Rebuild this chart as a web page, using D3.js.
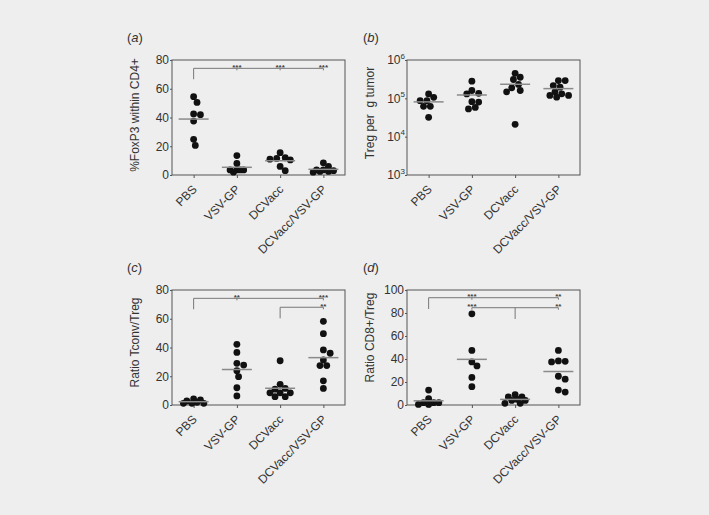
<!DOCTYPE html>
<html>
<head>
<meta charset="utf-8">
<script src="https://cdn.jsdelivr.net/npm/d3@7"></script>
<style>
  body { margin: 0; background: #eeeeee; }
  svg { display: block; font-family: "Liberation Sans", Arial, sans-serif; }
</style>
</head>
<body>
<svg id="chart" width="709" height="515"></svg>
<script>
// Treatment groups (x categories, same for all four panels)
const groups = ["PBS", "VSV-GP", "DCVacc", "DCVacc/VSV-GP"];

// (a) %FoxP3 within CD4+
const foxp3 = [
    [54.5, 50.5, 42.5, 42, 37.5, 24.8, 20.6],
    [13.5, 8, 3.5, 3.5, 3.5, 3.5, 2],
    [15.5, 12, 11.5, 11, 10.5, 6, 3],
    [8.5, 6, 3.5, 2.5, 2.5, 3, 3.5, 2]
];

// (b) Treg per g tumor (log scale)
const tregPerGram = [
    [1.3e5, 1.06e5, 8.7e4, 8.7e4, 6.2e4, 6.2e4, 3.2e4],
    [2.8e5, 1.6e5, 1.35e5, 1.3e5, 8.2e4, 8e4, 5.8e4, 5.3e4],
    [4.5e5, 3.55e5, 3.1e5, 2.3e5, 1.88e5, 1.6e5, 1.48e5, 2.1e4],
    [2.9e5, 2.9e5, 2.15e5, 1.95e5, 1.48e5, 1.31e5, 1.19e5, 1.19e5, 1.07e5]
];

// (c) Ratio Tconv/Treg
const tconvRatio = [
    [4.2, 3.5, 2.8, 1.9, 1.2, 1.2, 1.2],
    [42.2, 36.6, 29, 27.8, 23.9, 19.7, 12, 6.3],
    [30.8, 14.4, 11.5, 11, 8.5, 8.5, 8.5, 5.8, 5.8],
    [58.2, 49.6, 38.3, 36, 31.3, 27.4, 27.4, 16.8, 11.5]
];

// (d) Ratio CD8+/Treg
const cd8Ratio = [
    [13, 5.5, 2, 2, 2, 0.5, 0.5],
    [79.3, 47.5, 37.5, 34, 24, 15.9],
    [9, 7, 7, 5, 4, 4, 1.5, 1.5],
    [47.5, 38.3, 38, 37.5, 25, 22.5, 13, 11.2]
];

// Significance brackets: line from/to at value y, a stem down to stemTo, star marks
const sigA = [
    { from: "PBS", to: "DCVacc/VSV-GP", y: 74.2, stem: "PBS", stemTo: 66.6,
      marks: [["VSV-GP", "***"], ["DCVacc", "***"], ["DCVacc/VSV-GP", "***"]] }
];
const sigC = [
    { from: "PBS", to: "DCVacc/VSV-GP", y: 74.2, stem: "PBS", stemTo: 66.6,
      marks: [["VSV-GP", "**"], ["DCVacc/VSV-GP", "***"]] },
    { from: "DCVacc", to: "DCVacc/VSV-GP", y: 68, stem: "DCVacc", stemTo: 60.3,
      marks: [["DCVacc/VSV-GP", "**"]] }
];
const sigD = [
    { from: "PBS", to: "DCVacc/VSV-GP", y: 93.3, stem: "PBS", stemTo: 83.5,
      marks: [["VSV-GP", "***"], ["DCVacc/VSV-GP", "**"]] },
    { from: "VSV-GP", to: "DCVacc/VSV-GP", y: 84.6, stem: "DCVacc", stemTo: 74.8,
      marks: [["VSV-GP", "***"], ["DCVacc/VSV-GP", "**"]] }
];

const W = 173, H = 115;
const R = 3.4;

const panels = [
    { tag: "a", x: 172, y: 60, data: foxp3, max: 80, ticks: [0, 20, 40, 60, 80],
      title: "%FoxP3 within CD4+", titleShift: -2.5, sig: sigA },
    { tag: "b", x: 407, y: 60, data: tregPerGram, log: true, ticks: [1e3, 1e4, 1e5, 1e6],
      title: "Treg per  g tumor", titleShift: -4.5, sig: [] },
    { tag: "c", x: 172, y: 290, data: tconvRatio, max: 80, ticks: [0, 20, 40, 60, 80],
      title: "Ratio Tconv/Treg", titleShift: -5, sig: sigC },
    { tag: "d", x: 407, y: 290, data: cd8Ratio, max: 100, ticks: [0, 20, 40, 60, 80, 100],
      title: "Ratio CD8+/Treg", titleShift: -10, sig: sigD }
];

const svg = d3.select("#chart");

// simple beeswarm: spread points sideways, but keep them inside a narrow column
function swarm(ys) {
    const placed = [];
    const offs = new Array(ys.length);
    const order = d3.range(ys.length).sort((a, b) => ys[a] - ys[b]);
    const step = R * 0.5;
    const minDist = 2 * R * 0.9;
    const maxOff = 11;
    order.forEach(i => {
        let best = 0, bestGap = -1;
        for (let k = 0; k < 40; k++) {
            const dx = k === 0 ? 0 : (k % 2 ? 1 : -1) * Math.ceil(k / 2) * step;
            if (Math.abs(dx) > maxOff) break;
            const gap = placed.length
                ? d3.min(placed, p => Math.hypot(p.dx - dx, p.y - ys[i]))
                : Infinity;
            if (gap >= minDist) { best = dx; bestGap = gap; break; }
            if (gap > bestGap) { best = dx; bestGap = gap; }
        }
        offs[i] = best;
        placed.push({ dx: best, y: ys[i] });
    });
    return offs;
}

function drawPanel(p) {
    const g = svg.append("g").attr("transform", `translate(${p.x},${p.y})`);

    const x = d3.scalePoint().domain(groups).range([0, W]).padding(0.5);
    const y = p.log
        ? d3.scaleLog().domain([1e3, 1e6]).range([H, 0])
        : d3.scaleLinear().domain([0, p.max]).range([H, 0]);

    // y axis
    const yAxis = g.append("g")
        .call(d3.axisLeft(y).tickValues(p.ticks).tickSize(2).tickPadding(1)
            .tickFormat(p.log ? "" : d3.format("d")));
    yAxis.select(".domain").remove();
    yAxis.selectAll("line").attr("stroke", "#555");
    yAxis.selectAll("text").attr("font-size", 12).attr("fill", "#333")
        .attr("font-family", "Liberation Sans, Arial, sans-serif");

    if (p.log) {
        const lt = g.selectAll(".logtick").data(p.ticks).join("text")
            .attr("class", "logtick")
            .attr("x", -2)
            .attr("y", d => y(d))
            .attr("dy", "0.35em")
            .attr("text-anchor", "end")
            .attr("font-size", 12)
            .attr("fill", "#333");
        lt.append("tspan").text("10");
        lt.append("tspan").attr("font-size", 8).attr("dy", "-0.7em")
            .text(d => Math.round(Math.log10(d)));
    }

    // x axis ticks
    const xAxis = g.append("g").attr("transform", `translate(0,${H})`)
        .call(d3.axisBottom(x).tickSize(3).tickFormat(""));
    xAxis.select(".domain").remove();
    xAxis.selectAll("line").attr("stroke", "#555");

    g.selectAll(".xlab").data(groups).join("text")
        .attr("class", "xlab")
        .attr("transform", d => `translate(${x(d) + 4},${H + 15}) rotate(-45)`)
        .attr("text-anchor", "end")
        .attr("font-size", 12)
        .attr("fill", "#333")
        .text(d => d);

    // frame
    g.append("rect")
        .attr("width", W).attr("height", H)
        .attr("fill", "none").attr("stroke", "#555").attr("stroke-width", 1);

    // y title
    g.append("text")
        .attr("transform", `translate(-33,${H / 2 + p.titleShift}) rotate(-90)`)
        .attr("text-anchor", "middle")
        .attr("font-size", 12)
        .attr("fill", "#333")
        .style("white-space", "pre")
        .text(p.title);

    // panel tag
    const tag = g.append("text")
        .attr("x", p.x > 300 ? -44 : -45)
        .attr("y", -18.5)
        .attr("font-size", 13)
        .attr("fill", "#333");
    tag.append("tspan").text("(");
    tag.append("tspan").attr("font-style", "italic").text(p.tag);
    tag.append("tspan").text(")");

    // points + mean lines
    p.data.forEach((vals, i) => {
        const cx = x(groups[i]);
        const ys = vals.map(v => y(v));
        const offs = swarm(ys);
        g.append("g").selectAll("circle").data(vals).join("circle")
            .attr("cx", (d, j) => cx + offs[j])
            .attr("cy", (d, j) => ys[j])
            .attr("r", R)
            .attr("fill", "#111");
        const m = d3.mean(vals);
        g.append("line")
            .attr("x1", cx - 15).attr("x2", cx + 15)
            .attr("y1", y(m)).attr("y2", y(m))
            .attr("stroke", "#8a8a8a").attr("stroke-width", 1.5);
    });

    // significance brackets
    p.sig.forEach(s => {
        const yy = y(s.y);
        g.append("line")
            .attr("x1", x(s.from)).attr("x2", x(s.to))
            .attr("y1", yy).attr("y2", yy)
            .attr("stroke", "#777").attr("stroke-width", 1);
        g.append("line")
            .attr("x1", x(s.stem)).attr("x2", x(s.stem))
            .attr("y1", yy).attr("y2", y(s.stemTo))
            .attr("stroke", "#777").attr("stroke-width", 1);
        s.marks.forEach(([at, label]) => {
            g.append("line")
                .attr("x1", x(at)).attr("x2", x(at))
                .attr("y1", yy).attr("y2", yy + 2)
                .attr("stroke", "#777").attr("stroke-width", 1);
            g.append("text")
                .attr("x", x(at)).attr("y", yy + 1.6)
                .attr("text-anchor", "middle")
                .attr("font-size", 8)
                .attr("font-weight", "bold")
                .attr("fill", "#444")
                .text(label);
        });
    });
}

panels.forEach(drawPanel);
</script>
</body>
</html>
